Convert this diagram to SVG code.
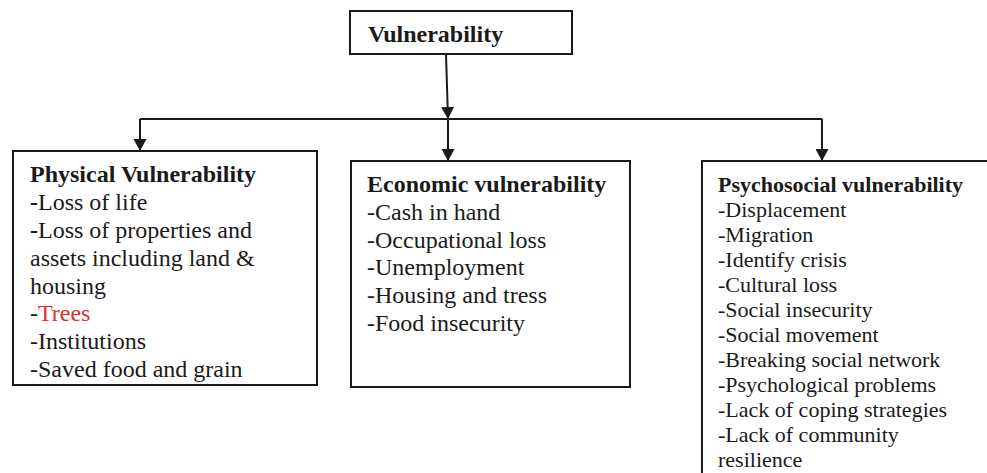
<svg xmlns="http://www.w3.org/2000/svg" width="987" height="473" viewBox="0 0 987 473">
<defs>
<style>
.box{fill:#fff;stroke:#1a1a1a;stroke-width:2}
.t{font-family:"Liberation Serif","Times New Roman",serif;fill:#1a1a1a}
.b{font-weight:bold}
.m{font-size:24px}
.s{font-size:22px}
.red{fill:#e0302c}
.conn{fill:none;stroke:#1a1a1a;stroke-width:2}
</style>
<marker id="ah" markerUnits="userSpaceOnUse" markerWidth="12" markerHeight="13" refX="12" refY="6.5" orient="auto">
<path d="M0,0 L12,6.5 L0,13 z" fill="#1a1a1a"/>
</marker>
</defs>
<rect width="987" height="473" fill="#fff"/>
<g id="connectors">
<path class="conn" d="M446,54 L448,119" marker-end="url(#ah)"/>
<path class="conn" d="M140,119 L822,119"/>
<path class="conn" d="M140,119 L140,151" marker-end="url(#ah)"/>
<path class="conn" d="M448,119 L448,161" marker-end="url(#ah)"/>
<path class="conn" d="M822,119 L822,161" marker-end="url(#ah)"/>
</g>
<g id="vulnerability">
<rect class="box" x="350" y="11" width="222" height="43"/>
<text class="t b m" x="368" y="42">Vulnerability</text>
</g>
<g id="physical">
<rect class="box" x="13" y="151" width="304" height="234"/>
<text class="t m">
<tspan class="b" x="30" y="182">Physical Vulnerability</tspan>
<tspan x="30" y="210"><tspan class="b">-</tspan>Loss of life</tspan>
<tspan x="30" y="238"><tspan class="b">-</tspan>Loss of properties and</tspan>
<tspan x="30" y="266">assets including land &amp;</tspan>
<tspan x="30" y="294">housing</tspan>
<tspan x="30" y="321">-<tspan class="red">Trees</tspan></tspan>
<tspan x="30" y="349">-Institutions</tspan>
<tspan x="30" y="377">-Saved food and grain</tspan>
</text>
</g>
<g id="economic">
<rect class="box" x="351" y="161" width="279" height="226"/>
<text class="t m">
<tspan class="b" x="367" y="192">Economic vulnerability</tspan>
<tspan x="367" y="220">-Cash in hand</tspan>
<tspan x="367" y="248">-Occupational loss</tspan>
<tspan x="367" y="275">-Unemployment</tspan>
<tspan x="367" y="303">-Housing and tress</tspan>
<tspan x="367" y="331">-Food insecurity</tspan>
</text>
</g>
<g id="psychosocial">
<rect class="box" x="702" y="161" width="300" height="330"/>
<text class="t s">
<tspan class="b" x="718" y="192">Psychosocial vulnerability</tspan>
<tspan x="718" y="217">-Displacement</tspan>
<tspan x="718" y="242">-Migration</tspan>
<tspan x="718" y="267">-Identify crisis</tspan>
<tspan x="718" y="292">-Cultural loss</tspan>
<tspan x="718" y="317">-Social insecurity</tspan>
<tspan x="718" y="342">-Social movement</tspan>
<tspan x="718" y="367">-Breaking social network</tspan>
<tspan x="718" y="392">-Psychological problems</tspan>
<tspan x="718" y="417">-Lack of coping strategies</tspan>
<tspan x="718" y="442">-Lack of community</tspan>
<tspan x="718" y="467">resilience</tspan>
</text>
</g>
</svg>
